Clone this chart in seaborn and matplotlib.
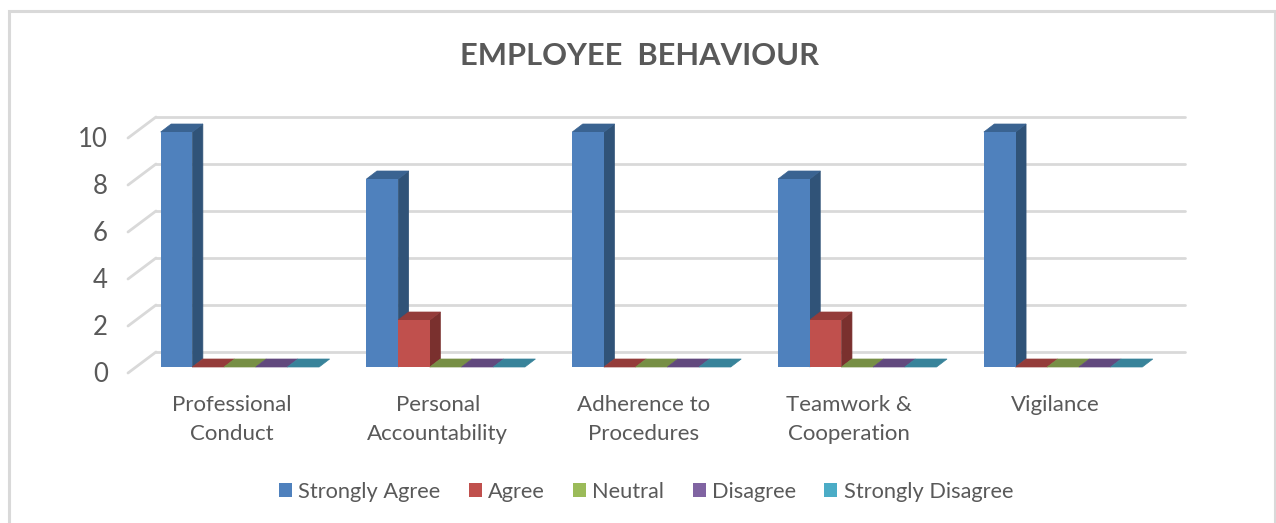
import numpy as np
import pandas as pd
import matplotlib
matplotlib.use("Agg")
import matplotlib.pyplot as plt
import matplotlib.transforms as mtransforms
from matplotlib.patches import Polygon, Rectangle
import seaborn as sns

# data
categories = ["Professional\nConduct", "Personal\nAccountability", "Adherence to\nProcedures",
              "Teamwork &\nCooperation", "Vigilance"]
responses = ["Strongly Agree", "Agree", "Neutral", "Disagree", "Strongly Disagree"]
strongly_agree = [10, 8, 10, 8, 10]
agree = [0, 2, 0, 2, 0]
neutral = [0, 0, 0, 0, 0]
disagree = [0, 0, 0, 0, 0]
strongly_disagree = [0, 0, 0, 0, 0]
y_ticks = [0, 2, 4, 6, 8, 10]

front_colors = ["#4F81BD", "#C0504D", "#9BBB59", "#8064A2", "#4BACC6"]
top_colors = ["#3A6391", "#943C3A", "#778F45", "#62497E", "#38839A"]
side_colors = ["#305378", "#7A302E", "#637739", "#513D69", "#2E6D80"]
TEXT = "#595959"
GRID = "#D9D9D9"

df = pd.DataFrame({"category": categories, "Strongly Agree": strongly_agree, "Agree": agree,
                   "Neutral": neutral, "Disagree": disagree, "Strongly Disagree": strongly_disagree})
df = df.melt(id_vars="category", var_name="response", value_name="count")

W, H = 1276, 523
sns.set_theme(style="white")
plt.rcParams["font.family"] = ["Lato", "DejaVu Sans"]

fig = plt.figure(figsize=(W / 100, H / 100), dpi=100)
# axes box in pixels: baseline of the bars at y=367, value 10 at y=132
ax = fig.add_axes([137 / W, 1 - 367 / H, 1029 / W, 235 / H])

sns.barplot(data=df, x="category", y="count", hue="response", order=categories, hue_order=responses,
            palette=front_colors, width=0.77, gap=0, saturation=1, linewidth=0, ax=ax, zorder=3)
ax.set_ylim(0, 10)
ax.set_xlim(-0.5, len(categories) - 0.5)
ax.set_xlabel("")
ax.set_ylabel("")
sns.despine(ax=ax, left=True, bottom=True)
ax.patch.set_alpha(0)

# depth of the fake 3D, in pixels
dx, dy = 10.5, 8
back = mtransforms.offset_copy(ax.transData, fig, x=19, y=15, units="dots")
front = mtransforms.offset_copy(ax.transData, fig, x=-9, y=-6, units="dots")
x0, x1 = ax.get_xlim()
for v in y_ticks:
    ax.plot([x0, x1], [v, v], color=GRID, lw=2, transform=back, clip_on=False, zorder=1)
    p0 = back.transform((x0, v))
    p1 = front.transform((x0, v))
    ax.plot([p0[0], p1[0]], [p0[1], p1[1]], color=GRID, lw=2, transform=None, clip_on=False, zorder=1)

# side and top faces built from the bars seaborn drew
for container, top_c, side_c in zip(ax.containers, top_colors, side_colors):
    for bar in container:
        (xa, ya), (xb, yb) = ax.transData.transform(
            [(bar.get_x(), bar.get_y()), (bar.get_x() + bar.get_width(), bar.get_height())])
        if yb - ya > 0:
            ax.add_patch(Polygon([(xb, ya), (xb + dx, ya + dy), (xb + dx, yb + dy), (xb, yb)],
                                 closed=True, fc=side_c, ec=side_c, lw=0.5, transform=None, zorder=2.5, clip_on=False))
        ax.add_patch(Polygon([(xa, yb), (xb, yb), (xb + dx, yb + dy), (xa + dx, yb + dy)],
                             closed=True, fc=top_c, ec=top_c, lw=0.5, transform=None, zorder=2.5, clip_on=False))

# tick labels
ax.set_yticks(y_ticks)
ax.tick_params(axis="y", length=0, pad=21, labelsize=18.5, labelcolor=TEXT)
for lab in ax.get_yticklabels():
    lab.set_transform(lab.get_transform() + mtransforms.Affine2D().translate(0, -5))
ax.tick_params(axis="x", length=0, pad=20, labelsize=16, labelcolor=TEXT)
for lab in ax.get_xticklabels():
    lab.set_linespacing(1.55)
    lab.set_transform(lab.get_transform() + mtransforms.Affine2D().translate(-8, 0))

fig.text(640 / W, 1 - 56 / H, "EMPLOYEE  BEHAVIOUR", ha="center", va="center",
         fontsize=22.2, fontweight="bold", color=TEXT)

leg = ax.legend(loc="center", bbox_to_anchor=(646 / W, 1 - 492 / H), bbox_transform=fig.transFigure,
                ncol=5, frameon=False, fontsize=15.7, handlelength=0.6, handleheight=0.6,
                handletextpad=0.28, columnspacing=1.3, labelcolor=TEXT)

# chart frame, runs off the bottom of the image
fig.add_artist(Rectangle((8.5 / W, -0.02), 1266 / W, 1.02 - 10.5 / H, transform=fig.transFigure,
                         fill=False, ec="#D9D9D9", lw=2.2))

fig.savefig("out.png", dpi=100, facecolor="white")
